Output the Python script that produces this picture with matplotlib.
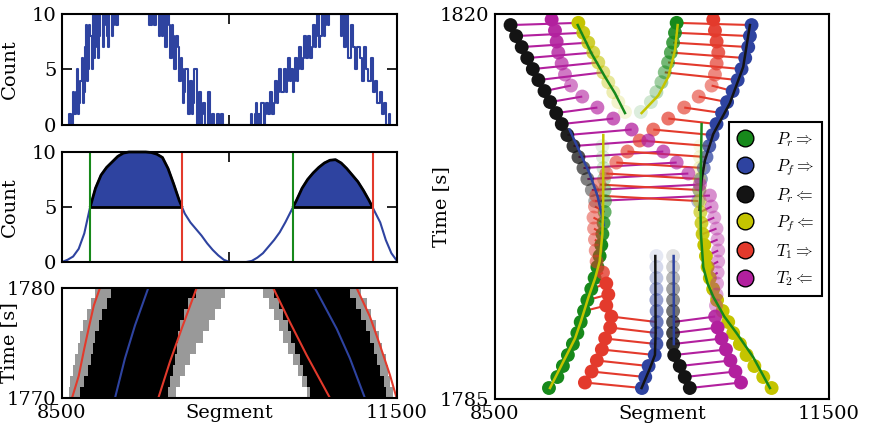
import numpy as np
import matplotlib
matplotlib.use("Agg")
import matplotlib.pyplot as plt
from matplotlib.colors import to_rgba
from matplotlib.lines import Line2D
from matplotlib.patches import Rectangle

plt.rcParams['font.family'] = ['DejaVu Serif']
plt.rcParams['mathtext.fontset'] = 'cm'
plt.rcParams['font.size'] = 14

# colours
C_GREEN = '#17891b'
C_BLUE = '#2e43a0'
C_BLACK = '#141414'
C_YELLOW = '#c4c400'
C_RED = '#e33a2c'
C_MAGENTA = '#b2209e'

# ---- top left: raw counts per segment (every 10 segments from 8560) ----
hist_seg = np.arange(8560, 11441, 10)
hist_counts = ([0, 1, 1, 0, 3, 1, 1, 3, 5, 1, 2, 4, 6, 2, 3, 7, 9, 4, 5, 9, 8, 5, 10, 6,
                7, 10, 10, 6, 8, 10, 10, 7, 9, 10, 10, 8, 7, 10, 10, 8, 9, 10, 10, 9, 9, 10,
                10, 10]
               + [10] * 24 + [9, 10]
               + [9, 10, 10, 9, 9, 10, 10, 8, 10, 9,
                  8, 10, 10, 7, 7, 10, 9, 6, 6, 9,
                  8, 5, 5, 8, 7, 4, 4, 6, 5, 2,
                  3, 5, 5, 1, 1, 4, 4, 1, 2, 5,
                  5, 0, 0, 3, 3, 0, 1, 2, 2, 0,
                  0, 3, 3, 0, 0, 1, 1, 0, 0, 1,
                  1, 0, 0, 1, 1, 0]
               + [0] * 24
               + [1, 0, 0, 1, 2, 0, 1, 1, 0, 2,
                  2, 0, 1, 2, 2, 1, 1, 3, 3, 1,
                  2, 4, 4, 2, 3, 5, 5, 3, 3, 5,
                  5, 3, 4, 6, 6, 4, 5, 3, 4, 6,
                  6, 4, 5, 7, 7, 5, 6, 8, 8, 6,
                  6, 8, 8, 6, 7, 9, 9, 7, 8, 10,
                  10, 7, 8, 10, 10, 8, 9, 10, 10, 9]
               + [10] * 10
               + [8, 10, 10, 7, 7, 10, 10, 6, 6, 9,
                  9, 7, 7, 5, 5, 7, 7, 6, 6, 4,
                  4, 7, 7, 5, 5, 4, 4, 6, 6, 3,
                  3, 4, 4, 2, 2, 3, 3, 1, 1, 2,
                  2, 0, 0, 1, 0])

# ---- middle left: smoothed counts ----
smooth_seg = np.arange(8500, 11501, 50)
smooth_count = [0.0, 0.2, 0.5, 1.2, 2.6, 4.9, 6.7, 7.9, 8.6, 9.1, 9.6, 9.9, 10.0, 10.0, 10.0,
                10.0, 9.95, 9.8, 9.5, 8.5, 7.1, 5.6, 4.4, 3.6, 3.0, 2.4, 1.7, 1.1, 0.6, 0.2,
                0.0, 0.0, 0.0, 0.0, 0.1, 0.4, 0.8, 1.4, 2.0, 2.7, 3.6, 4.6, 5.6, 6.7, 7.5,
                8.1, 8.6, 9.0, 9.25, 9.3, 9.0, 8.5, 7.9, 7.3, 6.5, 5.6, 4.6, 3.6, 2.0, 0.8, 0.1]
threshold = 5
rise_seg = [8751, 10566]
fall_seg = [9578, 11281]

# ---- bottom left: occupancy raster, one row per second (1770..1779) ----
raster_t0 = [1770, 1771, 1772, 1773, 1774, 1775, 1776, 1777, 1778, 1779]
b1_fringe_l = [8560, 8570, 8600, 8620, 8640, 8660, 8690, 8720, 8760, 8800]
b1_left = [8660, 8700, 8730, 8760, 8780, 8800, 8830, 8860, 8900, 8940]
b1_right = [9450, 9470, 9490, 9510, 9530, 9545, 9560, 9590, 9630, 9700]
b1_fringe_r = [9520, 9560, 9600, 9650, 9700, 9760, 9820, 9870, 9920, 9960]
b2_fringe_l = [10690, 10650, 10610, 10570, 10520, 10480, 10440, 10400, 10350, 10300]
b2_left = [10720, 10690, 10660, 10630, 10590, 10550, 10520, 10480, 10440, 10400]
b2_right = [11400, 11380, 11350, 11320, 11290, 11260, 11220, 11180, 11130, 11080]
b2_fringe_r = [11460, 11440, 11420, 11400, 11370, 11340, 11310, 11270, 11230, 11180]

traj_red = [
    ([8590, 8650, 8700, 8745, 8785, 8840], [1770, 1772, 1774.5, 1776.6, 1778.4, 1780]),
    ([9363, 9467, 9572, 9706], [1770, 1773.3, 1776.3, 1780]),
    ([10900, 10691, 10541, 10392], [1770, 1773.9, 1776.9, 1780]),
    ([11497, 11437, 11348, 11258, 11139], [1770, 1772.1, 1774.8, 1777.4, 1780]),
]
traj_blue = [
    ([8975, 9064, 9154, 9273], [1770, 1773.6, 1776.6, 1780]),
    ([11213, 11079, 10960, 10765], [1770, 1773.6, 1776.3, 1780]),
]

# ---- right panel: detected fronts ----
black_up_t = [1819, 1818, 1817, 1816, 1815, 1814, 1813, 1812, 1811, 1810, 1809, 1808,
              1807, 1806, 1805, 1804, 1803]
black_up_x = [8640, 8690, 8740, 8790, 8840, 8890, 8945, 8995, 9050, 9100, 9150, 9205,
              9250, 9295, 9330, 9370, 9400]
black_up_w = [1, 1, 1, 1, 1, 1, 1, 1, 1, 1, 0.95, 0.85, 0.75, 0.65, 0.55, 0.45, 0.35]

blue_up_t = black_up_t
blue_up_x = [10805, 10790, 10775, 10748, 10715, 10680, 10635, 10585, 10540, 10490, 10455,
             10425, 10400, 10375, 10350, 10335, 10325]
blue_up_w = black_up_w

yellow_up_t = [1819.2, 1818.3, 1817.4, 1816.5, 1815.6, 1814.7, 1813.8, 1812.9, 1812.0, 1811.1]
yellow_up_x = [9249, 9293, 9338, 9383, 9428, 9473, 9518, 9563, 9608, 9668]
yellow_up_w = [1, 0.9, 0.8, 0.7, 0.6, 0.5, 0.4, 0.3, 0.2, 0.15]

green_up_t = yellow_up_t
green_up_x = [10132, 10117, 10100, 10080, 10055, 10025, 9995, 9950, 9900, 9810]
green_up_w = yellow_up_w

green_lo_t = [1786, 1787, 1788, 1789, 1790, 1791, 1792, 1793, 1794, 1795, 1796, 1797,
              1798, 1799, 1800, 1801, 1802, 1803, 1804, 1805, 1806, 1807, 1808]
green_lo_x = [8985, 9060, 9110, 9155, 9200, 9240, 9270, 9300, 9330, 9365, 9395, 9420,
              9440, 9455, 9465, 9475, 9485, 9488, 9485, 9480, 9475, 9470, 9465]
green_lo_w = [1] * 14 + [0.9, 0.8, 0.65, 0.5, 0.4, 0.3, 0.2, 0.15, 0.1]

yellow_lo_t = green_lo_t
yellow_lo_x = [10985, 10910, 10830, 10760, 10700, 10640, 10595, 10545, 10495, 10460, 10430,
               10410, 10395, 10380, 10365, 10355, 10345, 10340, 10338, 10338, 10340, 10342,
               10345]
yellow_lo_w = green_lo_w

blue_lo_t = [1786, 1787, 1788, 1789, 1790, 1791, 1792, 1793, 1794, 1795, 1796, 1797, 1798]
blue_lo_x = [9820, 9850, 9880, 9935, 9950, 9952, 9952, 9952, 9950, 9950, 9950, 9950, 9950]
blue_lo_w = [1, 1, 1, 1, 0.9, 0.8, 0.7, 0.6, 0.5, 0.4, 0.3, 0.2, 0.12]

black_lo_t = blue_lo_t
black_lo_x = [10250, 10205, 10160, 10110, 10100, 10100, 10100, 10100, 10100, 10100, 10100,
              10100, 10100]
black_lo_w = blue_lo_w

tail_t = [1819.5, 1818.5, 1817.5, 1816.5, 1815.5, 1814.5, 1813.5, 1812.5, 1811.5, 1810.5,
          1809.5, 1808.5, 1807.5, 1806.5, 1805.5, 1804.5, 1803.5, 1802.5, 1801.5, 1800.5,
          1799.5, 1798.5, 1797.5, 1796.5, 1795.5, 1794.5, 1793.5, 1792.5, 1791.5, 1790.5,
          1789.5, 1788.5, 1787.5, 1786.5]
magenta_x = [9009, 9039, 9054, 9069, 9099, 9129, 9183, 9284, 9420, 9563, 9728, 9877, 10012,
             10132, 10237, 10341, 10431, 10446, 10470, 10490, 10500, 10505, 10505, 10500,
             10495, 10490, 10485, 10478, 10500, 10536, 10575, 10615, 10660, 10710]
magenta_w = [1, 0.95, 0.9, 0.8, 0.7, 0.6, 0.55, 0.6, 0.65, 0.7, 0.75, 0.75, 0.7, 0.65, 0.6,
             0.55, 0.5, 0.45, 0.4, 0.4, 0.4, 0.4, 0.4, 0.4, 0.4, 0.4, 0.4, 0.9, 1, 1, 1, 1, 1, 1]
red_x = [10461, 10476, 10491, 10506, 10491, 10476, 10446, 10330, 10200, 10057, 9922, 9800,
         9690, 9590, 9500, 9440, 9410, 9398, 9385, 9390, 9398, 9405, 9413, 9470, 9500, 9518,
         9500, 9545, 9535, 9490, 9460, 9415, 9368, 9308]
red_w = [1, 0.95, 0.9, 0.8, 0.7, 0.6, 0.55, 0.6, 0.65, 0.7, 0.7, 0.7, 0.65, 0.6, 0.55, 0.5,
         0.5, 0.5, 0.5, 0.5, 0.5, 0.5, 0.55, 0.8, 1, 1, 1, 1, 1, 1, 1, 1, 1, 1]

# link rows
cross_t = [1813, 1812, 1811, 1810, 1809, 1808, 1807, 1806, 1805, 1804, 1803]
edge_t = [1786, 1787, 1788, 1789, 1790, 1791, 1792]
stub_t = [1793, 1794, 1795, 1796, 1797, 1798, 1799, 1800, 1801, 1802]
n_head = 6

# fitted front lines: (segments, times, colour)
fits = [
    ([9243, 9368, 9488, 9578, 9668], [1819.0, 1816.4, 1814.3, 1812.8, 1811.0], C_GREEN),
    ([10141, 10117, 10057, 9967, 9817], [1819.0, 1816.7, 1814.3, 1812.6, 1811.0], C_YELLOW),
    ([9170, 9260, 9350, 9420, 9465, 9475], [1809.5, 1807.5, 1805.5, 1803.5, 1801.5, 1800.8], C_BLUE),
    ([10790, 10730, 10610, 10461, 10386, 10356, 10338],
     [1819.0, 1815.2, 1811.9, 1809.1, 1806.7, 1804.9, 1802.2], C_BLACK),
    ([9473, 9472, 9465, 9440, 9400, 9338, 9270, 9219, 9099, 8994],
     [1809, 1803, 1800, 1797.5, 1796, 1794.2, 1792, 1790.5, 1788.1, 1786.0], C_YELLOW),
    ([10356, 10345, 10350, 10371, 10410, 10461, 10560, 10670, 10820, 10970],
     [1810, 1803, 1800, 1797, 1795.5, 1794.3, 1792.5, 1791.0, 1788.8, 1786], C_GREEN),
    ([9817, 9892, 9937, 9943, 9940], [1786, 1787.8, 1789, 1791, 1798], C_BLACK),
    ([10105, 10107], [1798, 1790], C_BLUE),
]

legend_labels = [r'$P_r \Rightarrow$', r'$P_f \Rightarrow$', r'$P_r \Leftarrow$',
                 r'$P_f \Leftarrow$', r'$T_1 \Rightarrow$', r'$T_2 \Leftarrow$']
legend_colors = [C_GREEN, C_BLUE, C_BLACK, C_YELLOW, C_RED, C_MAGENTA]


def style(ax):
    for s in ax.spines.values():
        s.set_linewidth(1.5)
        s.set_color('k')
    ax.tick_params(direction='in', top=True, right=True, length=7, width=1.2,
                   labelsize=14, pad=4)


def dots(ax, xs, ts, ws, color):
    rgba = [to_rgba(color, w) for w in ws]
    ax.scatter(xs, ts, s=100, c=rgba, edgecolors='none', zorder=2)


def link(ax, pairs, color):
    for (x0, t0), (x1, t1) in pairs:
        ax.plot([x0, x1], [t0, t1], color=color, lw=1.5, zorder=1,
                solid_capstyle='butt')


fig = plt.figure(figsize=(8.69, 4.34), dpi=100)
ax1 = fig.add_axes([0.0713, 0.712, 0.3855, 0.2558])
ax2 = fig.add_axes([0.0713, 0.3963, 0.3855, 0.2535])
ax3 = fig.add_axes([0.0713, 0.0829, 0.3855, 0.2535])
ax4 = fig.add_axes([0.5696, 0.0806, 0.3843, 0.887])

# top: raw counts
ax1.plot(hist_seg, hist_counts, color=C_BLUE, lw=1.5, drawstyle='steps-mid')
ax1.set_xlim(8500, 11500)
ax1.set_ylim(0, 10)
ax1.set_yticks([0, 5, 10])
ax1.set_xticks([8500, 10000, 11500])
ax1.set_xticklabels([])
ax1.set_ylabel('Count')

# middle: smoothed counts with thresholded packets
ax2.plot(smooth_seg, smooth_count, color=C_BLUE, lw=1.5)
ax2.fill_between(smooth_seg, threshold, smooth_count,
                 where=np.array(smooth_count) >= threshold, interpolate=True,
                 color=C_BLUE, lw=0)
outline, = ax2.plot(smooth_seg, smooth_count, color='k', lw=2)
outline.set_clip_path(Rectangle((8500, threshold), 3000, 6, transform=ax2.transData))
ax2.hlines([threshold] * len(rise_seg), rise_seg, fall_seg, color='k', lw=2)
for s in rise_seg:
    ax2.axvline(s, color=C_GREEN, lw=1.5)
for s in fall_seg:
    ax2.axvline(s, color=C_RED, lw=1.5)
ax2.set_xlim(8500, 11500)
ax2.set_ylim(0, 10)
ax2.set_yticks([0, 5, 10])
ax2.set_xticks([8500, 10000, 11500])
ax2.set_xticklabels([])
ax2.set_ylabel('Count')

# bottom: space-time raster
cols = np.arange(8505, 11500, 10)
img = np.zeros((len(raster_t0), len(cols)))
for i in range(len(raster_t0)):
    img[i, (cols >= b1_fringe_l[i]) & (cols < b1_left[i])] = 0.4
    img[i, (cols >= b1_right[i]) & (cols < b1_fringe_r[i])] = 0.4
    img[i, (cols >= b2_fringe_l[i]) & (cols < b2_left[i])] = 0.4
    img[i, (cols >= b2_right[i]) & (cols < b2_fringe_r[i])] = 0.4
    img[i, (cols >= b1_left[i]) & (cols < b1_right[i])] = 1
    img[i, (cols >= b2_left[i]) & (cols < b2_right[i])] = 1
ax3.imshow(img, cmap='gray_r', vmin=0, vmax=1, aspect='auto', origin='lower',
           interpolation='nearest', extent=(8500, 11500, 1770, 1780))
for xs, ts in traj_red:
    ax3.plot(xs, ts, color=C_RED, lw=1.5)
for xs, ts in traj_blue:
    ax3.plot(xs, ts, color=C_BLUE, lw=1.5)
ax3.set_xlim(8500, 11500)
ax3.set_ylim(1770, 1780)
ax3.set_yticks([1770, 1780])
ax3.set_xticks([8500, 11500])
ax3.set_ylabel('Time [s]')
ax3.set_xlabel('Segment')
ax3.xaxis.set_label_coords(0.5, -0.055)

# right: fronts and tails
blk_up = dict(zip(black_up_t, black_up_x))
blu_up = dict(zip(blue_up_t, blue_up_x))
blk_lo = dict(zip(black_lo_t, black_lo_x))
blu_lo = dict(zip(blue_lo_t, blue_lo_x))
grn_lo = dict(zip(green_lo_t, green_lo_x))
yel_lo = dict(zip(yellow_lo_t, yellow_lo_x))
mag = dict(zip(tail_t, magenta_x))
red = dict(zip(tail_t, red_x))

mag_pairs = ([((black_up_x[i], black_up_t[i]), (yellow_up_x[i], yellow_up_t[i])) for i in range(n_head)]
             + [((blk_up[t], t), (mag[t + 0.5], t + 0.5)) for t in cross_t]
             + [((blk_lo[t], t), (mag[t + 0.5], t + 0.5)) for t in edge_t]
             + [((yel_lo[t], t), (mag[t + 0.5], t + 0.5)) for t in stub_t])
red_pairs = ([((green_up_x[i], green_up_t[i]), (blue_up_x[i], blue_up_t[i])) for i in range(n_head)]
             + [((red[t + 0.5], t + 0.5), (blu_up[t], t)) for t in cross_t]
             + [((red[t + 0.5], t + 0.5), (blu_lo[t], t)) for t in edge_t]
             + [((grn_lo[t], t), (red[t + 0.5], t + 0.5)) for t in stub_t])
link(ax4, mag_pairs, C_MAGENTA)
link(ax4, red_pairs, C_RED)

dots(ax4, green_up_x, green_up_t, green_up_w, C_GREEN)
dots(ax4, green_lo_x, green_lo_t, green_lo_w, C_GREEN)
dots(ax4, blue_up_x, blue_up_t, blue_up_w, C_BLUE)
dots(ax4, blue_lo_x, blue_lo_t, blue_lo_w, C_BLUE)
dots(ax4, black_up_x, black_up_t, black_up_w, C_BLACK)
dots(ax4, black_lo_x, black_lo_t, black_lo_w, C_BLACK)
dots(ax4, yellow_up_x, yellow_up_t, yellow_up_w, C_YELLOW)
dots(ax4, yellow_lo_x, yellow_lo_t, yellow_lo_w, C_YELLOW)
dots(ax4, red_x, tail_t, red_w, C_RED)
dots(ax4, magenta_x, tail_t, magenta_w, C_MAGENTA)

for xs, ts, c in fits:
    ax4.plot(xs, ts, color=c, lw=1.8, zorder=3)

ax4.set_xlim(8500, 11500)
ax4.set_ylim(1785, 1820)
ax4.set_xticks([8500, 11500])
ax4.set_yticks([1785, 1820])
ax4.set_ylabel('Time [s]')
ax4.set_xlabel('Segment')
ax4.xaxis.set_label_coords(0.5, -0.016)
ax4.yaxis.set_label_coords(-0.135, 0.5)

handles = [Line2D([], [], ls='none', marker='o', markersize=12, markerfacecolor=c,
                  markeredgecolor='k', markeredgewidth=1) for c in legend_colors]
leg = ax4.legend(handles, legend_labels, loc='upper right', bbox_to_anchor=(0.979, 0.719),
                 borderaxespad=0, fontsize=12, frameon=True, fancybox=False, framealpha=1,
                 handlelength=1.0, handletextpad=1.4, labelspacing=0.5, borderpad=0.45)
leg.get_frame().set_edgecolor('k')
leg.get_frame().set_linewidth(1.5)

for ax in (ax1, ax2, ax3):
    ax.yaxis.set_label_coords(-0.13, 0.5)
for ax in (ax1, ax2, ax3, ax4):
    style(ax)

fig.savefig('out.png', dpi=100)
